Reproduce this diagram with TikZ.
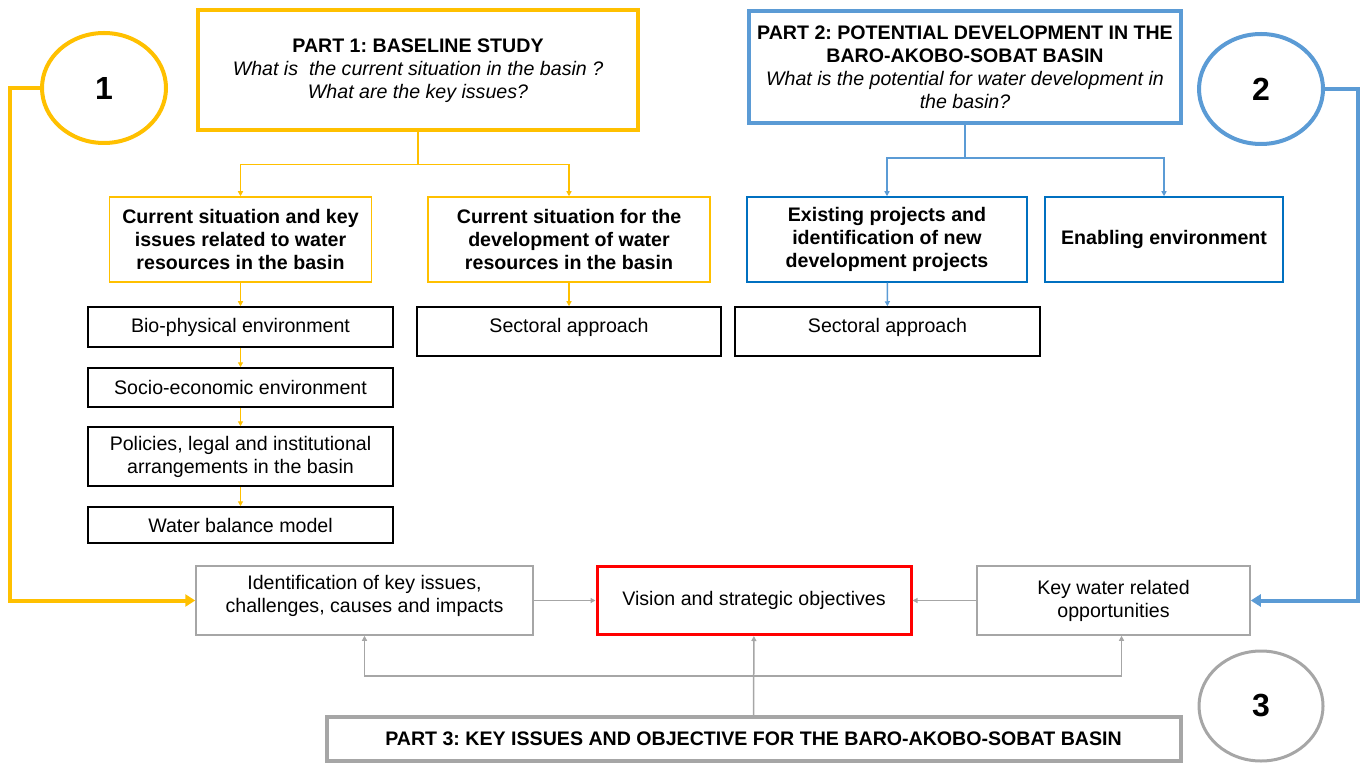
\documentclass[tikz,border=0pt]{standalone}
\usepackage{fontspec}
\setmainfont{Liberation Sans}
\usepackage{tikz}
\usetikzlibrary{shapes.geometric,arrows.meta,positioning}
\definecolor{gold}{HTML}{FFC000}
\definecolor{sky}{HTML}{5B9BD5}
\definecolor{deepblue}{HTML}{0070C0}
\definecolor{ash}{HTML}{A6A6A6}
\frenchspacing

\begin{document}
\begin{tikzpicture}[x=0.5pt,y=-0.5pt,
  every node/.style={font=\fontsize{9.8}{11.5}\selectfont, align=center, inner sep=0pt},
  part/.style={draw, rectangle, line width=2pt},
  sub/.style={draw, rectangle, line width=0.75pt},
  num/.style={draw, ellipse, line width=2pt, minimum width=62pt, minimum height=55pt, font=\fontsize{16}{19}\selectfont\bfseries},
  thin/.style={line width=0.75pt, -{Triangle[length=2.5pt,width=2.5pt]}},
  thick/.style={line width=2pt, -{Triangle[length=5pt,width=6pt]}}
]
\useasboundingbox (0,0) rectangle (1368,764);

% part 1
\node[part, draw=gold, minimum width=220pt, minimum height=60pt] (p1) at (418,70.5)
  {\textbf{PART 1: BASELINE STUDY}\\ \textit{What is~ the current situation in the basin ?}\\ \textit{What are the key issues?}};
\node[num, draw=gold] (one) at (104,88) {1};
\node[sub, draw=gold, minimum width=131pt, minimum height=42.5pt] (cs1) at (240.5,239.5)
  {\textbf{Current situation and key}\\ \textbf{issues related to water}\\ \textbf{resources in the basin}};
\node[sub, draw=gold, minimum width=141pt, minimum height=42.5pt] (cs2) at (569,239.5)
  {\textbf{Current situation for the}\\ \textbf{development of water}\\ \textbf{resources in the basin}};
\node[sub, minimum width=152.5pt, minimum height=20pt] (bio) at (240.5,327) {Bio-physical environment};
\node[sub, minimum width=152.5pt, minimum height=19.5pt] (soc) at (240.5,387.5) {Socio-economic environment};
\node[sub, minimum width=152.5pt, minimum height=29.5pt] (pol) at (240.5,456.5)
  {Policies, legal and institutional\\ arrangements in the basin};
\node[sub, minimum width=152.5pt, minimum height=18pt] (wat) at (240.5,525) {Water balance model};
\node[sub, minimum width=152pt, text height=12.5pt, text depth=12pt] (sa1) at (569,331.5) {Sectoral approach};

\draw[gold, line width=0.75pt] (p1.south) -- ++(0,32) coordinate (ysplit);
\draw[gold, thin] (ysplit) -| (cs1.north);
\draw[gold, thin] (ysplit) -| (cs2.north);
\draw[gold, thin] (cs1) -- (bio);
\draw[gold, thin] (bio) -- (soc);
\draw[gold, thin] (soc) -- (pol);
\draw[gold, thin] (pol) -- (wat);
\draw[gold, thin] (cs2) -- (sa1);

% part 2
\node[part, draw=sky, minimum width=216pt, minimum height=56pt] (p2) at (965,67)
  {\textbf{PART 2: POTENTIAL DEVELOPMENT IN THE}\\ \textbf{BARO-AKOBO-SOBAT BASIN}\\
   \textit{What is the potential for water development in}\\ \textit{the basin?}};
\node[num, draw=sky] (two) at (1261,89) {2};
\node[sub, draw=deepblue, minimum width=140pt, minimum height=42.5pt] (ex) at (887,239.5)
  {\textbf{Existing projects and}\\ \textbf{identification of new}\\ \textbf{development projects}};
\node[sub, draw=deepblue, minimum width=119pt, minimum height=42.5pt] (en) at (1164,239.5)
  {\textbf{Enabling environment}};
\node[sub, minimum width=152.5pt, text height=12.5pt, text depth=12pt] (sa2) at (887.5,331.5) {Sectoral approach};

\draw[sky, line width=0.75pt] (p2.south) -- ++(0,33) coordinate (bsplit);
\draw[sky, thin] (bsplit) -| (ex.north);
\draw[sky, thin] (bsplit) -| (en.north);
\draw[sky, thin] (ex) -- (sa2);

% part 3
\node[sub, draw=ash, minimum width=168.5pt, minimum height=34.5pt] (ident) at (364.5,600.5)
  {Identification of key issues,\\ challenges, causes and impacts\\[-5pt]};
\node[sub, draw=red, line width=1.5pt, minimum width=157pt, minimum height=34pt] (vis) at (754,600.5)
  {Vision and strategic objectives};
\node[sub, draw=ash, minimum width=136.5pt, minimum height=34.5pt] (keyw) at (1113.5,600.5)
  {Key water related\\ opportunities};
\node[part, draw=ash, minimum width=427pt, minimum height=22pt] (p3) at (753.5,739)
  {\textbf{PART 3: KEY ISSUES AND OBJECTIVE FOR THE BARO-AKOBO-SOBAT BASIN}};
\node[num, draw=ash, line width=1.5pt] (three) at (1261,706) {3};

\draw[ash, thin] (ident) -- (vis);
\draw[ash, thin] (keyw) -- (vis);
\draw[ash, thin] (p3) -- (vis);
\draw[ash, thin] (p3.north) ++(0,-39) -| (ident.south);
\draw[ash, thin] (p3.north) ++(0,-39) -| ([xshift=4pt]keyw.south);

% links from the circles
\draw[gold, thick] (one.west) -- ++(-30,0) |- (ident.west);
\draw[sky, thick] (two.east) -- ++(33,0) |- (keyw.east);
\end{tikzpicture}
\end{document}
